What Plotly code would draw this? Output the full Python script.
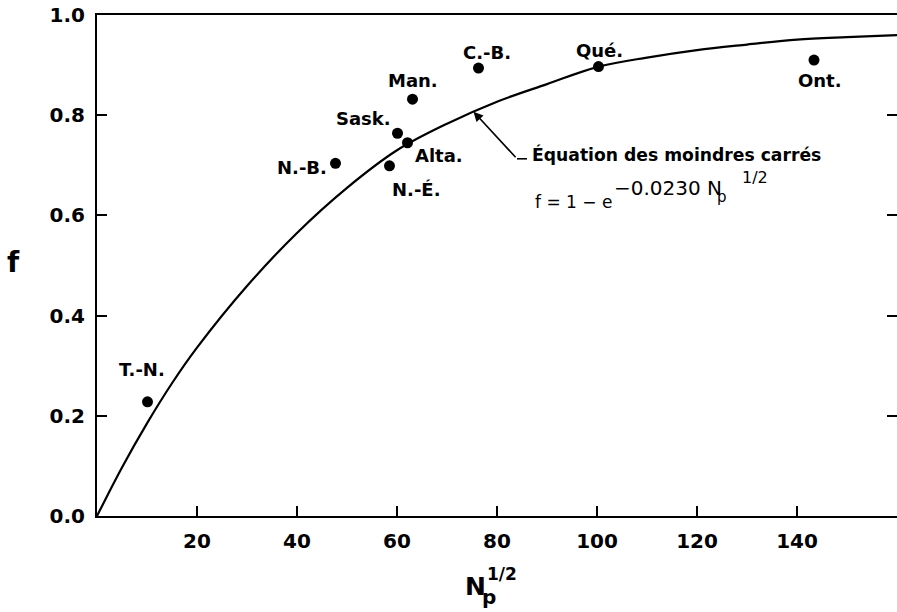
import plotly.graph_objects as go

# ---- data ----
provinces = ["T.-N.", "N.-B.", "N.-É.", "Sask.", "Alta.", "Man.", "C.-B.", "Qué.", "Ont."]
np_sqrt = [10.1, 47.7, 58.5, 60.1, 62.1, 63.1, 76.3, 100.3, 143.4]
f_values = [0.228, 0.704, 0.699, 0.764, 0.745, 0.832, 0.894, 0.897, 0.910]

# least-squares curve as drawn
curve_x = [0, 5, 10, 15, 20, 30, 40, 50, 60, 70, 80, 90, 100, 110, 120, 130, 140, 150, 160]
curve_f = [0.0, 0.097, 0.185, 0.265, 0.336, 0.459, 0.565, 0.655, 0.730, 0.783, 0.827,
           0.862, 0.896, 0.915, 0.930, 0.941, 0.951, 0.956, 0.960]

x_ticks = [20, 40, 60, 80, 100, 120, 140]
x_tick_labels = ["20", "40", "60", "80", "100", "120", "140"]
y_ticks = [0.0, 0.2, 0.4, 0.6, 0.8, 1.0]
y_tick_labels = ["0.0", "0.2", "0.4", "0.6", "0.8", "1.0"]

# label offsets in pixels (dx right, dy up) relative to each point
label_dx = [-6, -34, 27, -34, 31, 0, 8, 1, 6]
label_dy = [32, -4, -24, 15, -13, 19, 16, 16, -20]

FONT = "DejaVu Sans"

fig = go.Figure()
fig.add_trace(go.Scatter(x=curve_x, y=curve_f, mode="lines",
                         line=dict(color="black", width=2.2, shape="spline"),
                         hoverinfo="skip", showlegend=False))
fig.add_trace(go.Scatter(x=np_sqrt, y=f_values, mode="markers",
                         marker=dict(color="black", size=11),
                         text=provinces, showlegend=False))
# empty trace so the right-hand tick axis is drawn
fig.add_trace(go.Scatter(x=[None], y=[None], yaxis="y2", mode="markers",
                         hoverinfo="skip", showlegend=False))

ann = []
for name, xv, yv, dx, dy in zip(provinces, np_sqrt, f_values, label_dx, label_dy):
    ann.append(dict(x=xv, y=yv, xref="x", yref="y", text=name, showarrow=False,
                    xshift=dx, yshift=dy, xanchor="center", yanchor="middle",
                    font=dict(family=FONT, size=18, color="black", weight="bold")))

# arrow pointing to the curve
ann.append(dict(x=75.3, y=0.807, xref="x", yref="y", ax=84.0, ay=0.713,
                axref="x", ayref="y", text="", showarrow=True,
                arrowhead=2, arrowsize=1.2, arrowwidth=1.6, arrowcolor="black"))
ann.append(dict(x=86.6, y=0.722, xref="x", yref="y", text="Équation des moindres carrés",
                showarrow=False, xanchor="left", yanchor="middle",
                font=dict(family=FONT, size=17.2, color="black", weight="bold")))
# formula pieces
ann.append(dict(x=87.2, y=0.627, xref="x", yref="y", text="f = 1 − e",
                showarrow=False, xanchor="left", yanchor="middle",
                font=dict(family=FONT, size=17, color="black")))
ann.append(dict(x=103.0, y=0.655, xref="x", yref="y", text="−0.0230 N",
                showarrow=False, xanchor="left", yanchor="middle",
                font=dict(family=FONT, size=20, color="black")))
ann.append(dict(x=123.6, y=0.636, xref="x", yref="y", text="p",
                showarrow=False, xanchor="left", yanchor="middle",
                font=dict(family=FONT, size=15, color="black")))
ann.append(dict(x=128.6, y=0.675, xref="x", yref="y", text="1/2",
                showarrow=False, xanchor="left", yanchor="middle",
                font=dict(family=FONT, size=16, color="black")))

# axis titles
ann.append(dict(x=-0.104, y=0.505, xref="paper", yref="paper", text="f",
                showarrow=False, xanchor="center", yanchor="middle",
                font=dict(family=FONT, size=28, color="black", weight="bold")))
ann.append(dict(x=0.4725, y=-0.140, xref="paper", yref="paper", text="N",
                showarrow=False, xanchor="center", yanchor="middle",
                font=dict(family=FONT, size=25, color="black", weight="bold")))
ann.append(dict(x=0.4895, y=-0.161, xref="paper", yref="paper", text="p",
                showarrow=False, xanchor="center", yanchor="middle",
                font=dict(family=FONT, size=20, color="black", weight="bold")))
ann.append(dict(x=0.506, y=-0.115, xref="paper", yref="paper", text="1/2",
                showarrow=False, xanchor="center", yanchor="middle",
                font=dict(family=FONT, size=17, color="black", weight="bold")))

fig.update_layout(
    width=897, height=612,
    margin=dict(l=97, r=0, t=15, b=96),
    paper_bgcolor="white", plot_bgcolor="white",
    annotations=ann,
    shapes=[dict(type="line", xref="x", yref="y", x0=84.0, y0=0.713, x1=86.0, y1=0.713,
                 line=dict(color="black", width=1.6))],
    showlegend=False,
    yaxis2=dict(overlaying="y", side="right", matches="y", range=[0, 1],
                tickvals=y_ticks, showticklabels=False, ticks="inside",
                ticklen=10, tickwidth=2, tickcolor="black",
                showline=False, showgrid=False, zeroline=False),
)
fig.update_xaxes(range=[0, 160], tickvals=x_ticks, ticktext=x_tick_labels,
                 ticks="inside", ticklen=10, tickwidth=2, tickcolor="black",
                 showline=True, linecolor="black", linewidth=2, mirror=True,
                 showgrid=False, zeroline=False, ticklabelstandoff=6,
                 ticklabeloverflow="allow",
                 tickfont=dict(family=FONT, size=20, color="black", weight="bold"))
fig.update_layout(yaxis=dict(range=[0, 1], tickvals=y_ticks, ticktext=y_tick_labels,
                             ticks="inside", ticklen=10, tickwidth=2, tickcolor="black",
                             showline=True, linecolor="black", linewidth=2, mirror=False,
                             showgrid=False, zeroline=False, ticklabelstandoff=6,
                             ticklabeloverflow="allow",
                             tickfont=dict(family=FONT, size=20, color="black",
                                           weight="bold")))

fig.write_html("out.html", config={"displayModeBar": False},
               post_script="document.body.style.margin='0';document.body.style.overflow='hidden';")
